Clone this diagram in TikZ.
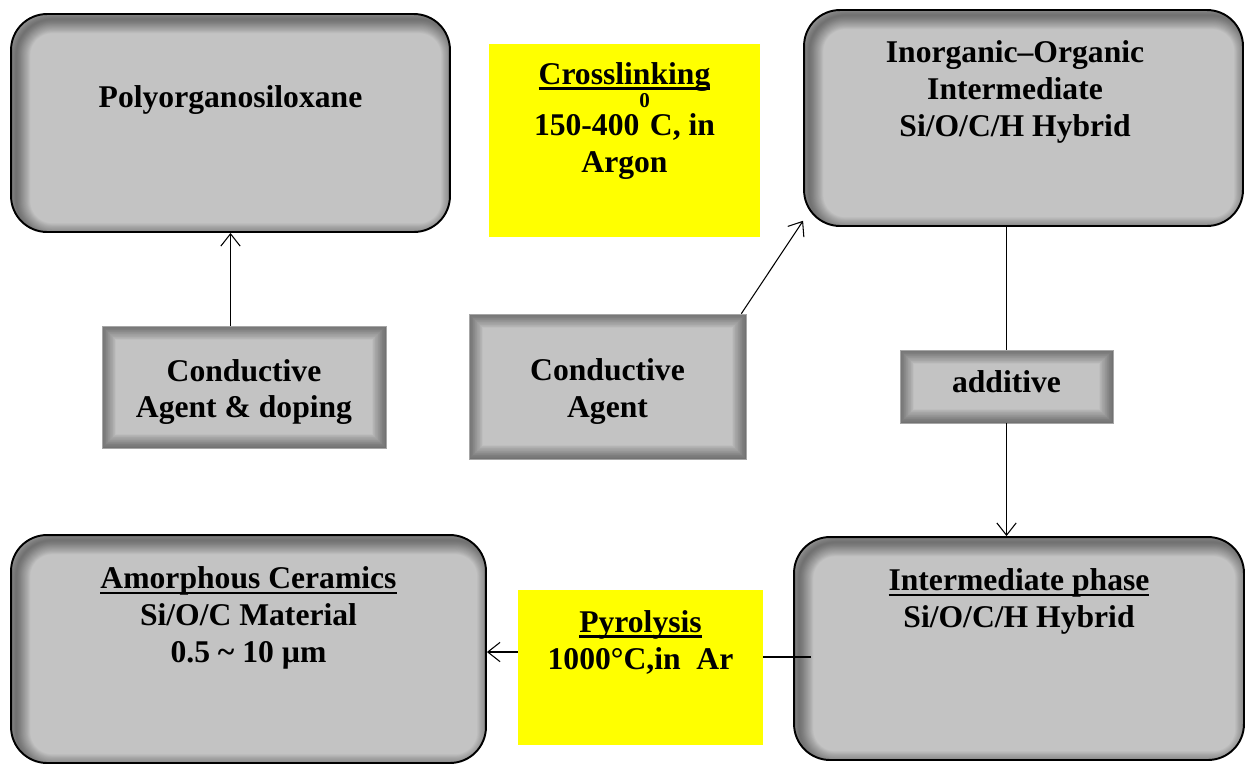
\documentclass[tikz,border=0pt]{standalone}
\usepackage{fontspec}
\setmainfont{Liberation Serif}
\usetikzlibrary{arrows.meta}
\usetikzlibrary{positioning}
\definecolor{boxgray}{RGB}{195,195,195}
\definecolor{notefill}{RGB}{255,255,0}
\newcommand{\ulbar}[1]{\setbox0\hbox{#1}\rlap{\rule[-3pt]{\wd0}{1.4pt}}\box0}
\tikzset{stage/.style = {draw=black, line width=1.1pt, fill=boxgray,
                         rounded corners=0.72cm, inner sep=0pt,
                         path picture={\foreach \w in {1,...,20}
                           \draw [black, opacity=0.025, line width=0.8*\w pt, rounded corners=0.72cm]
                             ([shift={(3pt,-3pt)}]path picture bounding box.south west)
                             rectangle ([shift={(3pt,-3pt)}]path picture bounding box.north east);}}}
\tikzset{panel/.style = {draw=gray!70, line width=0.4pt, fill=boxgray, inner sep=0pt,
                         path picture={\foreach \w in {1,...,20}
                           \draw [black, opacity=0.025, line width=0.8*\w pt]
                             (path picture bounding box.south west)
                             rectangle (path picture bounding box.north east);}}}
\tikzset{note/.style = {fill=notefill, inner sep=0pt}}
\tikzset{caption/.style = {align=center, inner sep=0pt,
                           font=\bfseries\fontsize{18}{21}\selectfont}}
\tikzset{flow/.style = {-{Straight Barb[length=7pt,width=11pt]}, line width=0.6pt}}
\tikzset{link/.style = {line width=0.6pt}}

\begin{document}
\begin{tikzpicture}[x=0.02cm, y=-0.02cm]
    \useasboundingbox (0,0) rectangle (1246,765);

    \node [stage, minimum width=8.78cm, minimum height=4.36cm] (poly) at (230.5,123) {};
    \node [caption, below=1.45cm of poly.north] (polytext) {Polyorganosiloxane};

    \node [stage, minimum width=8.78cm, minimum height=4.32cm] (hybrid) at (1023.5,118) {};
    \node [caption, below=0.63cm of hybrid.north, xshift=-0.17cm] (hybridtext)
      {Inorganic–Organic\\Intermediate\\Si/O/C/H Hybrid};

    \node [stage, minimum width=9cm, minimum height=4.46cm] (phase) at (1019,648.5) {};
    \node [caption, below=0.65cm of phase.north] (phasetext)
      {\ulbar{Intermediate phase}\\Si/O/C/H Hybrid};

    \node [stage, minimum width=9.5cm, minimum height=4.56cm] (ceramic) at (248.5,649) {};
    \node [caption, below=0.65cm of ceramic.north] (ceramictext)
      {\ulbar{Amorphous Ceramics}\\Si/O/C Material\\0.5 \textasciitilde\ 10 µm};

    \node [note, minimum width=5.42cm, minimum height=3.86cm] (cross) at (624.5,140.5) {};
    \node [caption, below=0.37cm of cross.north] (crosstext)
      {\ulbar{Crosslinking}\\150-400\raisebox{16pt}{\fontsize{12}{12}\selectfont 0}C, in\\Argon};

    \node [note, minimum width=4.9cm, minimum height=3.1cm] (pyro) at (640.5,667.5) {};
    \node [caption, below=0.41cm of pyro.north] (pyrotext)
      {\ulbar{Pyrolysis}\\1000°C,in\ \ Ar};

    \node [panel, minimum width=5.68cm, minimum height=2.44cm] (agentd) at (244,387) {};
    \node [caption] (agentdtext) at ([yshift=-0.1cm]agentd.center) {Conductive\\Agent \& doping};
    \node [panel, minimum width=5.54cm, minimum height=2.9cm] (agent) at (607.5,386.5) {};
    \node [caption] (agenttext) at ([yshift=-0.1cm]agent.center) {Conductive\\Agent};
    \node [panel, minimum width=4.26cm, minimum height=1.46cm] (additive) at (1006.5,386.5) {};
    \node [caption] (additivetext) at ([yshift=0.1cm]additive.center) {additive};

    \draw [flow] (agentd.north -| poly.south) -- (poly.south);
    \draw [flow] ([xshift=-0.1cm]agent.north east) -- (hybrid.205);
    \draw [link] (hybrid.south -| additive.north) -- (additive.north);
    \draw [flow] (additive.south) -- (additive.south |- phase.north);

    \coordinate (tap) at (811,657);
    \draw [link] (tap) -- (tap -| pyro.east);
    \draw [flow] ([yshift=0.31cm]pyro.west) coordinate (pin) -- (pin -| ceramic.east);
  \end{tikzpicture}
\end{document}
